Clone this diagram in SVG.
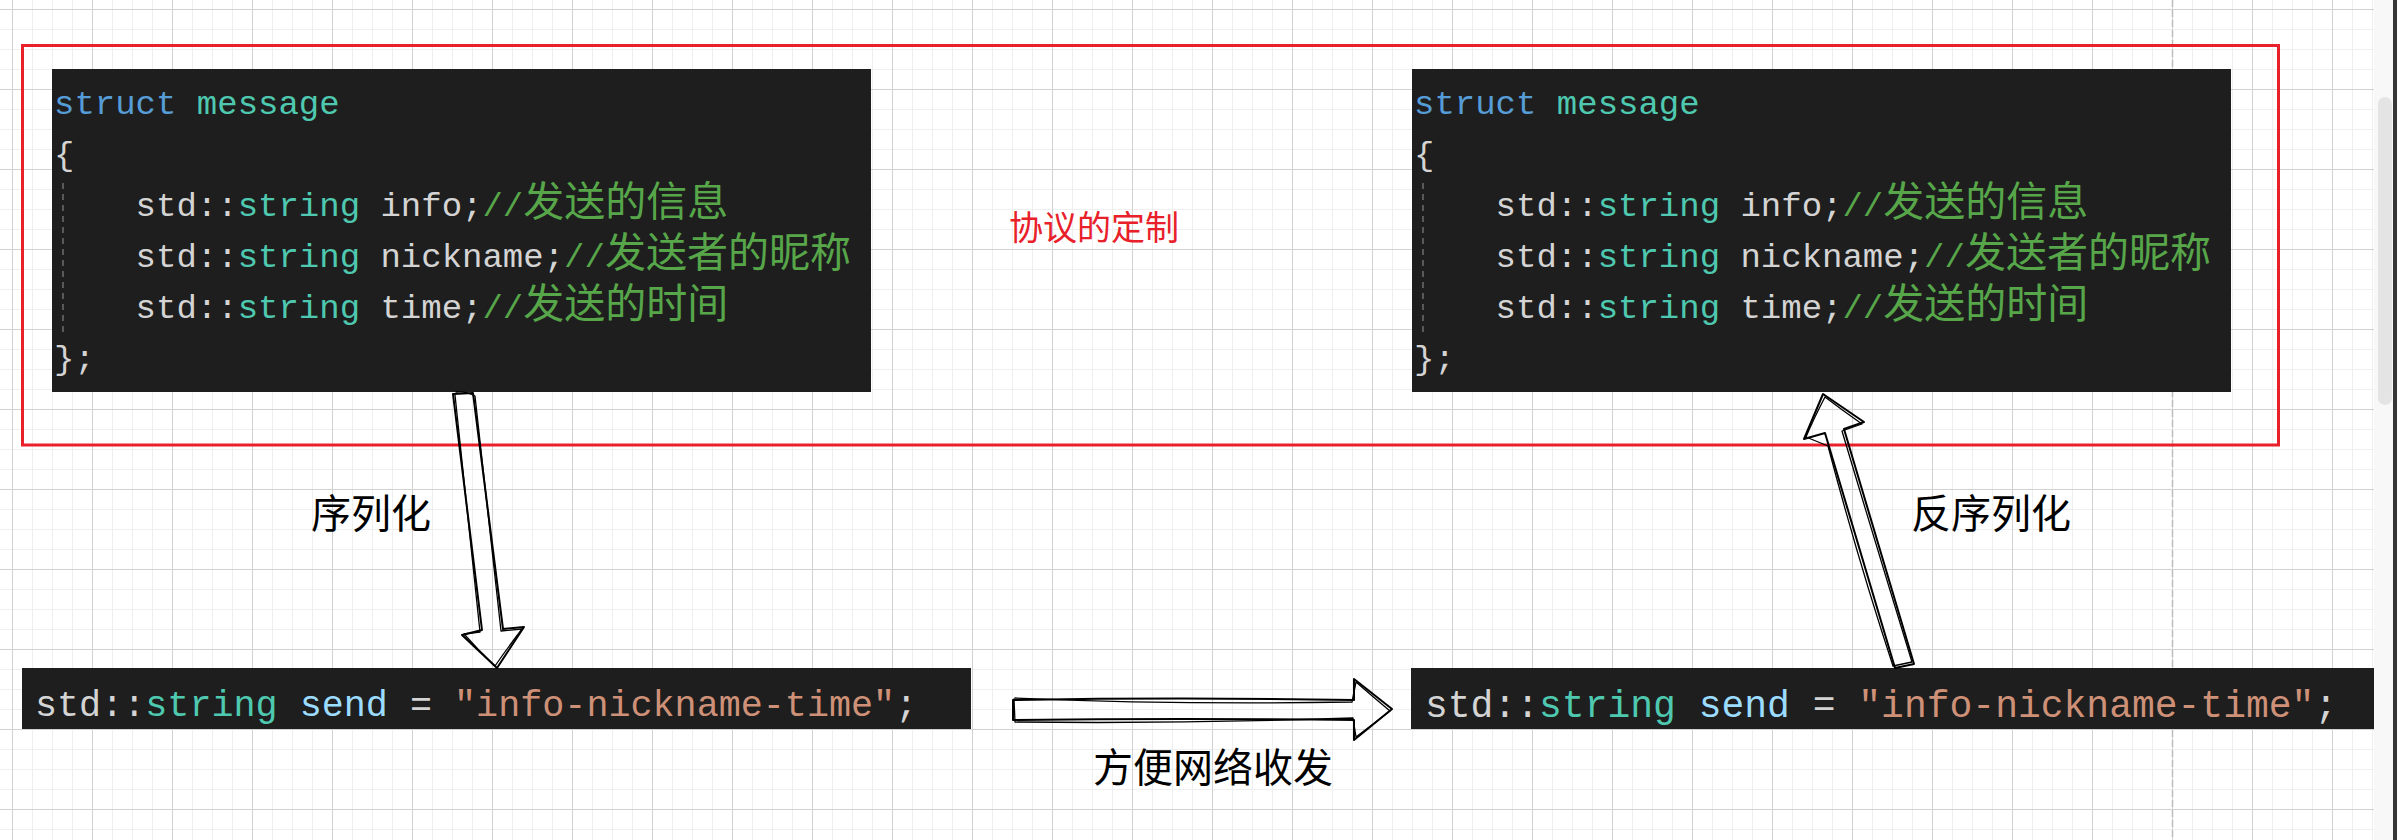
<svg xmlns="http://www.w3.org/2000/svg" width="2397" height="840" viewBox="0 0 2397 840">
<style>
.code{font-family:"Liberation Mono","DejaVu Sans Mono",monospace;font-size:34px;fill:#d4d4d4}
.sendL{font-family:"Liberation Mono","DejaVu Sans Mono",monospace;font-size:36.75px;fill:#d4d4d4}
.sendR{font-family:"Liberation Mono","DejaVu Sans Mono",monospace;font-size:38px;fill:#d4d4d4}
.cjk{font-family:"Noto Sans CJK SC","Noto Sans",sans-serif;font-size:41px;fill:#57a64a}
.kw{fill:#569cd6}
.ty{fill:#4ec9b0}
.cm{fill:#57a64a}
.var{fill:#9cdcfe}
.str{fill:#ce9178}
.box{fill:#1e1e1e}
.guide{stroke:#6e6e6e;stroke-width:1.5;stroke-dasharray:6 5;fill:none}
.label{font-family:"Noto Sans CJK SC","Noto Sans",sans-serif;font-size:40px;fill:#000}
.arrow{fill:none;stroke:#000;stroke-width:2;stroke-linejoin:round;stroke-linecap:round}
.arrow2{fill:none;stroke:#000;stroke-width:1.3;stroke-linejoin:round;stroke-linecap:round}
</style>
<defs>
<pattern id="grid" x="12" y="9" width="80" height="80" patternUnits="userSpaceOnUse">
<rect width="80" height="80" fill="#ffffff"/>
<rect x="20" y="0" width="1" height="80" fill="#efefef"/>
<rect x="40" y="0" width="1" height="80" fill="#efefef"/>
<rect x="60" y="0" width="1" height="80" fill="#efefef"/>
<rect x="0" y="20" width="80" height="1" fill="#efefef"/>
<rect x="0" y="40" width="80" height="1" fill="#efefef"/>
<rect x="0" y="60" width="80" height="1" fill="#efefef"/>
<rect x="0" y="0" width="1" height="80" fill="#d2d2d2"/>
<rect x="0" y="0" width="80" height="1" fill="#d2d2d2"/>
</pattern>
</defs>

<g id="background">
<rect x="0" y="0" width="2397" height="840" fill="#ffffff"/>
<rect x="0" y="0" width="2374" height="840" fill="url(#grid)"/>
<line x1="2172.5" y1="0" x2="2172.5" y2="840" stroke="#bdbdbd" stroke-width="1.5" stroke-dasharray="7 3"/>
<rect x="2374" y="0" width="19" height="840" fill="#f8f8f8"/>
<rect x="2378" y="97" width="14" height="308" rx="7" fill="#e4e4e4"/>
<rect x="2393" y="0" width="4" height="840" fill="#363636"/>
</g>

<g id="code-left">
<rect class="box" x="52" y="69" width="819" height="323"/>
<line class="guide" x1="63" y1="183" x2="63" y2="332"/>
<text class="code" x="54" y="114"><tspan class="kw">struct</tspan> <tspan class="ty">message</tspan></text>
<text class="code" x="54" y="165">{</text>
<text class="code" x="135.6" y="216">std::<tspan class="ty">string</tspan> info;<tspan class="cm">//</tspan><tspan class="cjk">发送的信息</tspan></text>
<text class="code" x="135.6" y="267">std::<tspan class="ty">string</tspan> nickname;<tspan class="cm">//</tspan><tspan class="cjk">发送者的昵称</tspan></text>
<text class="code" x="135.6" y="318">std::<tspan class="ty">string</tspan> time;<tspan class="cm">//</tspan><tspan class="cjk">发送的时间</tspan></text>
<text class="code" x="54" y="369">};</text>
</g>

<g id="code-right">
<rect class="box" x="1412" y="69" width="819" height="323"/>
<line class="guide" x1="1423" y1="183" x2="1423" y2="332"/>
<text class="code" x="1414" y="114"><tspan class="kw">struct</tspan> <tspan class="ty">message</tspan></text>
<text class="code" x="1414" y="165">{</text>
<text class="code" x="1495.6" y="216">std::<tspan class="ty">string</tspan> info;<tspan class="cm">//</tspan><tspan class="cjk">发送的信息</tspan></text>
<text class="code" x="1495.6" y="267">std::<tspan class="ty">string</tspan> nickname;<tspan class="cm">//</tspan><tspan class="cjk">发送者的昵称</tspan></text>
<text class="code" x="1495.6" y="318">std::<tspan class="ty">string</tspan> time;<tspan class="cm">//</tspan><tspan class="cjk">发送的时间</tspan></text>
<text class="code" x="1414" y="369">};</text>
</g>

<g id="protocol-frame">
<rect x="22.5" y="45.5" width="2256" height="399.5" fill="none" stroke="#e8202a" stroke-width="3"/>
<text x="1009" y="240" font-family="'Noto Sans CJK SC','Noto Sans',sans-serif" font-size="34" fill="#e8202a">协议的定制</text>
</g>

<g id="send-left">
<rect class="box" x="22" y="668" width="949" height="61"/>
<text class="sendL" x="35" y="716">std::<tspan class="ty">string</tspan> <tspan class="var">send</tspan> = <tspan class="str">"info-nickname-time"</tspan>;</text>
</g>

<g id="send-right">
<rect class="box" x="1411" y="668" width="963" height="61"/>
<text class="sendR" x="1425" y="717">std::<tspan class="ty">string</tspan> <tspan class="var">send</tspan> = <tspan class="str">"info-nickname-time"</tspan>;</text>
</g>

<g id="connectors">
<g id="arrow-serialize">
<path class="arrow" d="M453,394 L473,393 L503,629 L524,627 L497,668 L462,635 L482,630 Z"/>
<path class="arrow2" d="M456,392 Q466,391 475,396 L501,631 L522,629 Q506,650 495,666 Q478,650 464,634 L480,632 L455,395"/>
</g>
<g id="arrow-send">
<path class="arrow" d="M1013,700 Q1180,697 1354,700 L1354,679 L1392,709 L1354,740 L1354,720 Q1180,718 1013,720 Z"/>
<path class="arrow2" d="M1015,698 Q1180,705 1352,702 L1356,682 Q1372,696 1390,711 Q1372,725 1356,737 L1353,718 Q1180,724 1015,722 L1014,699"/>
</g>
<g id="arrow-deserialize">
<path class="arrow" d="M1895,668 L1914,664 L1844,429 L1864,422 L1823,394 L1804,439 L1825,433 Z"/>
<path class="arrow2" d="M1893,666 L1912,662 Q1876,545 1842,431 L1862,424 Q1842,410 1825,397 Q1814,418 1806,437 L1828,446 Q1858,560 1893,666"/>
</g>
</g>

<g id="labels">
<text class="label" x="311" y="528">序列化</text>
<text class="label" x="1911" y="528">反序列化</text>
<text class="label" x="1093" y="782">方便网络收发</text>
</g>
</svg>
